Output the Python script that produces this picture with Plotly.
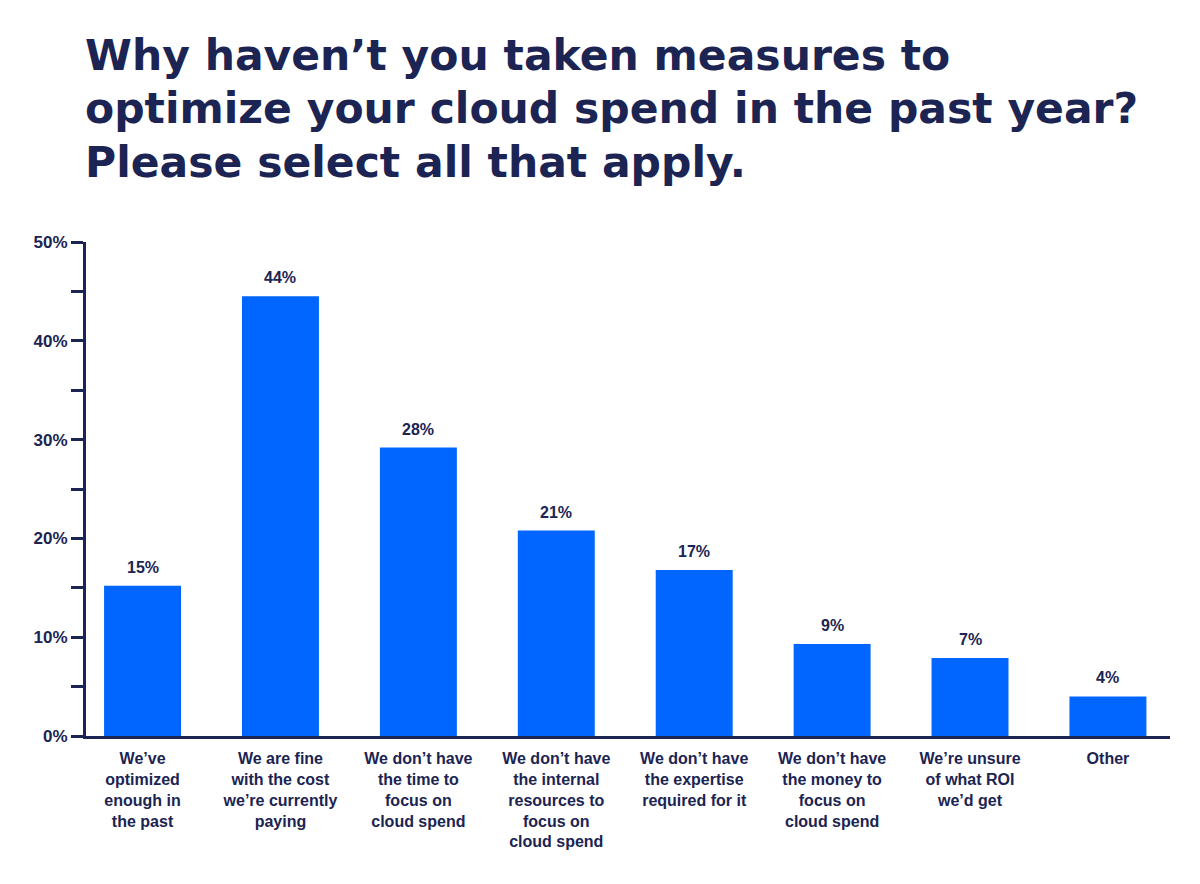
import plotly.graph_objects as go

categories = [
    "We've<br>optimized<br>enough in<br>the past",
    "We are fine<br>with the cost<br>we're currently<br>paying",
    "We don't have<br>the time to<br>focus on<br>cloud spend",
    "We don't have<br>the internal<br>resources to<br>focus on<br>cloud spend",
    "We don't have<br>the expertise<br>required for it",
    "We don't have<br>the money to<br>focus on<br>cloud spend",
    "We're unsure<br>of what ROI<br>we'd get",
    "Other",
]
categories = [c.replace("'", "\u2019") for c in categories]
values = [15.2, 44.5, 29.2, 20.8, 16.8, 9.3, 7.9, 4.0]
value_labels = ["15%", "44%", "28%", "21%", "17%", "9%", "7%", "4%"]
y_ticks = [0, 10, 20, 30, 40, 50]
y_tick_labels = ["0%", "10%", "20%", "30%", "40%", "50%"]

title_lines = [
    "Why haven\u2019t you taken measures to",
    "optimize your cloud spend in the past year?",
    "Please select all that apply.",
]

NAVY = "#1b2452"
BLUE = "#0066ff"
FONT = "Liberation Sans"
TFONT = "DejaVu Sans"

x_idx = list(range(len(categories)))

fig = go.Figure()
fig.add_trace(go.Bar(
    x=x_idx, y=values, width=0.558,
    marker=dict(color=BLUE, line=dict(width=0)),
    hoverinfo="skip",
))

for xi, v, lab in zip(x_idx, values, value_labels):
    fig.add_annotation(
        x=xi, y=v, text=lab, showarrow=False,
        xanchor="center", yanchor="bottom", yshift=8,
        font=dict(family=FONT, size=16, color=NAVY, weight="bold"),
    )

fig.update_layout(
    width=1200, height=884,
    margin=dict(l=86, r=30, t=242, b=148),
    paper_bgcolor="white", plot_bgcolor="white",
    showlegend=False,
    xaxis=dict(
        range=[-0.41, 7.45],
        tickmode="array", tickvals=x_idx, ticktext=categories,
        tickangle=0,
        showline=True, linecolor=NAVY, linewidth=3,
        showgrid=False, zeroline=False, ticks="",
        ticklabelstandoff=6,
        tickfont=dict(family=FONT, size=16, color=NAVY, weight="bold"),
    ),
    yaxis=dict(
        range=[0, 50],
        tickmode="array", tickvals=y_ticks, ticktext=y_tick_labels,
        showline=True, linecolor=NAVY, linewidth=3,
        showgrid=False, zeroline=False,
        ticks="outside", ticklen=12, tickwidth=3, tickcolor=NAVY,
        minor=dict(tickvals=[5, 15, 25, 35, 45], ticks="outside", ticklen=12,
                   tickwidth=3, tickcolor=NAVY, showgrid=False),
        tickfont=dict(family=FONT, size=17, color=NAVY, weight="bold"),
    ),
)

# title lines placed by pixel row (converted to paper coords)
plot_top, plot_h = 242, 494
title_rows = [55, 108, 162]
for line, row in zip(title_lines, title_rows):
    fig.add_annotation(
        text=line, xref="paper", yref="paper",
        x=0, y=(plot_top + plot_h - row) / plot_h,
        xanchor="left", yanchor="middle", xshift=-3,
        showarrow=False, align="left",
        font=dict(family=TFONT, size=42.5, color=NAVY, weight="bold"),
    )

fig.write_html("out.html")
